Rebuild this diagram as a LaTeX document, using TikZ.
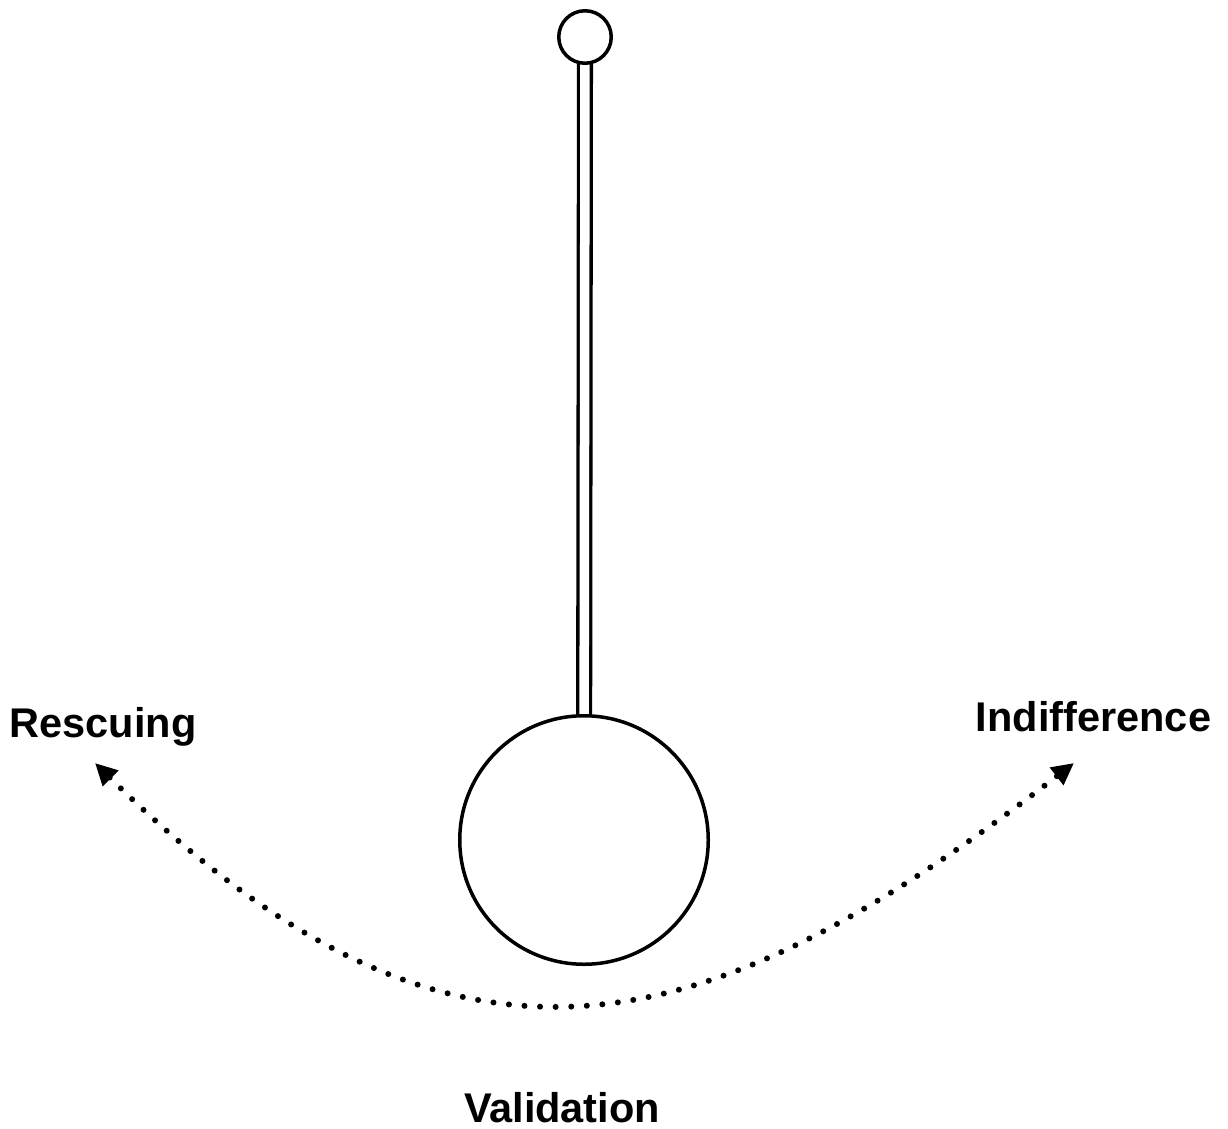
\documentclass[tikz,border=0pt]{standalone}
\usepackage{fontspec}
\setmainfont{Liberation Sans}
\usetikzlibrary{arrows.meta}
\pgfdeclarelayer{bg}
\pgfsetlayers{bg,main}
\begin{document}
\begin{tikzpicture}[x=1pt,y=-1pt,
  ball/.style={circle,draw,line width=3.5pt,inner sep=0pt,outer sep=0pt,fill=white},
  rod/.style={double distance=9.5pt,line width=3.3pt},
  swing/.style={line width=6pt,line cap=round,dash pattern=on 0pt off 15.6pt,
    {Triangle[length=22pt,width=21pt]}-{Triangle[length=22pt,width=21pt]}},
  lbl/.style={font=\bfseries\fontsize{41.5}{50}\selectfont,inner sep=0pt,anchor=base}]
\useasboundingbox (0,0) rectangle (1228,1129);
\node[ball,minimum size=52.5pt] (top) at (585,37) {};
\node[ball,minimum size=248.5pt] (bob) at (584,840) {};
\begin{pgfonlayer}{bg}
\draw[rod] (top.center) -- (bob.center);
\end{pgfonlayer}
\coordinate (L) at (95,763);
\coordinate (R) at (1074,763);
\draw[swing] (L) .. controls (457,1120) and (708,1045) .. (R);
\node[lbl] (resc) at (103,737) {Rescuing};
\node[lbl] (indiff) at (1093.5,731) {Indifference};
\node[lbl] (valid) at (562,1122) {Validation};
\end{tikzpicture}
\end{document}
